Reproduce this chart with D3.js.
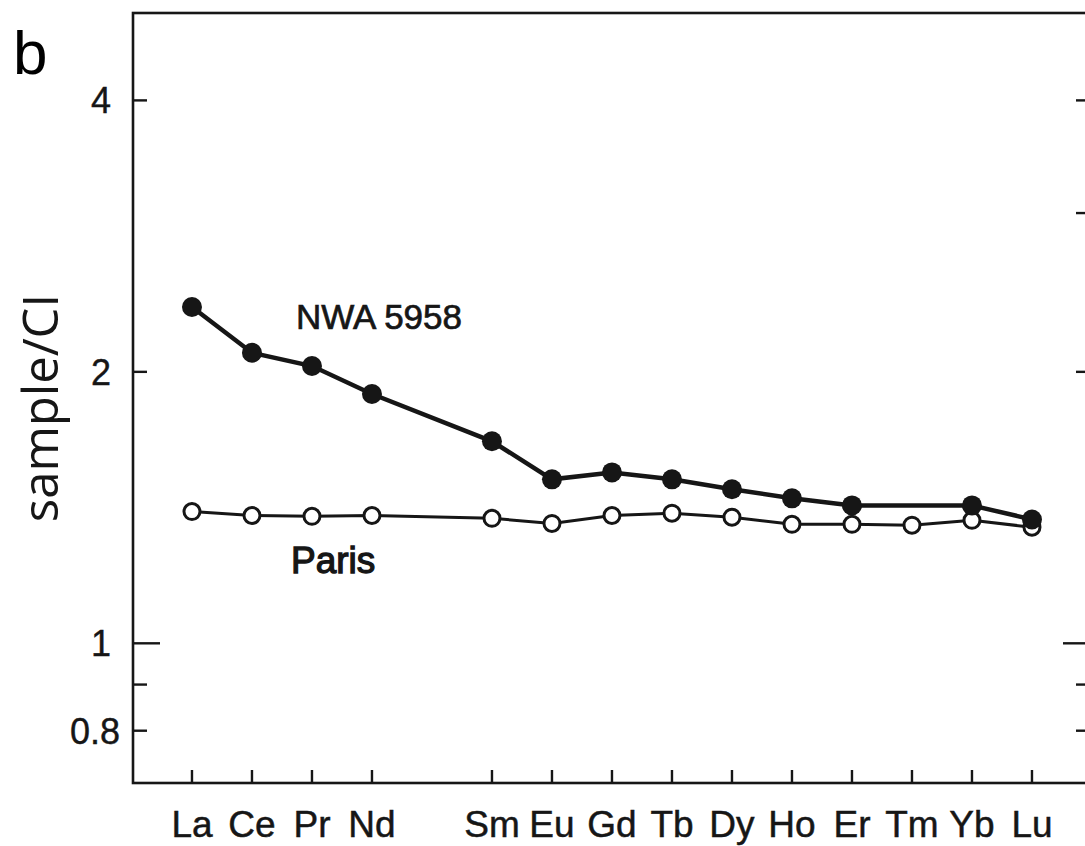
<!DOCTYPE html>
<html>
<head>
<meta charset="utf-8">
<script src="https://cdn.jsdelivr.net/npm/d3@7"></script>
<style>
  html, body { margin: 0; padding: 0; background: #fff; }
  svg { display: block; }
</style>
</head>
<body>
<svg id="chart" width="1085" height="846"></svg>
<script>
// Rare earth elements (Pm is a gap on the axis)
const elements = ["La","Ce","Pr","Nd","Pm","Sm","Eu","Gd","Tb","Dy","Ho","Er","Tm","Yb","Lu"];
// sample / CI values
const nwa5958 = [2.36, 2.10, 2.03, 1.89, null, 1.675, 1.52, 1.547, 1.52, 1.482, 1.448, 1.422, null, 1.422, 1.372];
const paris   = [1.40, 1.386, 1.383, 1.386, null, 1.376, 1.358, 1.386, 1.394, 1.380, 1.355, 1.355, 1.352, 1.369, 1.345];
const yMajorTicks = [4, 2, 1, 0.8];
const yMajorLabels = ["4", "2", "1", "0.8"];
const yLeftMinor = [0.9];
const yRightMinor = [3, 0.9];

(function () {
const svg = d3.select("#chart");
const pL = 133, pR = 1087, pT = 13, pB = 783;
const ink = "#161616";
const font = "Liberation Sans, Arial, sans-serif";

const x = d3.scaleLinear().domain([-0.983, 14.917]).range([pL, pR]);
const y = d3.scaleLog().domain([0.7, 5]).range([pB, pT]);

// frame
svg.append("rect").attr("x", pL).attr("y", pT)
  .attr("width", pR - pL).attr("height", pB - pT)
  .attr("fill", "none").attr("stroke", ink).attr("stroke-width", 2.6);

// bottom ticks (inward)
const xIdx = elements.map((e, i) => i).filter(i => elements[i] !== "Pm");
svg.append("g").selectAll("line").data(xIdx).join("line")
  .attr("x1", d => x(d)).attr("x2", d => x(d))
  .attr("y1", pB).attr("y2", pB - 13)
  .attr("stroke", ink).attr("stroke-width", 2.4);

// bottom labels
svg.append("g").selectAll("text").data(xIdx).join("text")
  .attr("x", d => x(d)).attr("y", 837)
  .attr("text-anchor", "middle")
  .attr("font-family", font)
  .attr("font-size", 37)
  .attr("fill", ink).attr("stroke", ink).attr("stroke-width", 0.5)
  .text(d => elements[d]);

// left ticks
function tickLen(v) { return v === 1 ? 27 : 14; }
svg.append("g").selectAll("line").data(yMajorTicks.concat(yLeftMinor)).join("line")
  .attr("x1", pL).attr("x2", d => pL + tickLen(d))
  .attr("y1", d => y(d)).attr("y2", d => y(d))
  .attr("stroke", ink).attr("stroke-width", 2.4);
// right ticks
svg.append("g").selectAll("line").data(yMajorTicks.concat(yRightMinor)).join("line")
  .attr("x1", 1085).attr("x2", d => 1085 - (d === 1 ? 22 : 9))
  .attr("y1", d => y(d)).attr("y2", d => y(d))
  .attr("stroke", ink).attr("stroke-width", 2.4);

// y labels
svg.append("g").selectAll("text").data(yMajorTicks).join("text")
  .attr("x", (d, i) => i === 3 ? 120 : 111)
  .attr("y", d => y(d) + 13)
  .attr("text-anchor", "end")
  .attr("font-family", font)
  .attr("font-size", 36)
  .attr("fill", ink).attr("stroke", ink).attr("stroke-width", 0.4)
  .text((d, i) => yMajorLabels[i]);

// axis title
svg.append("text")
  .attr("transform", "translate(58,408) rotate(-90)")
  .attr("text-anchor", "middle")
  .attr("font-family", "Open Sans, sans-serif")
  .attr("font-size", 49)
  .attr("fill", ink)
  .text("sample/CI");

// panel letter
svg.append("text").attr("x", 13).attr("y", 74)
  .attr("font-family", font)
  .attr("font-size", 62).attr("fill", "#000").text("b");

// lines
const line = d3.line().x(d => x(d.i)).y(d => y(d.v));
const nwaPts = nwa5958.map((v, i) => ({i, v})).filter(d => d.v != null);
const parisPts = paris.map((v, i) => ({i, v})).filter(d => d.v != null);

svg.append("path").datum(parisPts).attr("d", line)
  .attr("fill", "none").attr("stroke", ink).attr("stroke-width", 3);
svg.append("path").datum(nwaPts).attr("d", line)
  .attr("fill", "none").attr("stroke", ink).attr("stroke-width", 4.5);

svg.append("g").selectAll("circle").data(parisPts).join("circle")
  .attr("cx", d => x(d.i)).attr("cy", d => y(d.v)).attr("r", 8)
  .attr("fill", "#fff").attr("stroke", ink).attr("stroke-width", 3);
svg.append("g").selectAll("circle").data(nwaPts).join("circle")
  .attr("cx", d => x(d.i)).attr("cy", d => y(d.v)).attr("r", 10)
  .attr("fill", ink);

// series labels
svg.append("text").attr("x", 296).attr("y", 329)
  .attr("font-family", font)
  .attr("font-size", 35).attr("fill", ink).attr("stroke", ink).attr("stroke-width", 0.7)
  .text("NWA 5958");
svg.append("text").attr("x", 291).attr("y", 573)
  .attr("font-family", font)
  .attr("font-size", 37).attr("fill", ink).attr("stroke", ink).attr("stroke-width", 1.3)
  .text("Paris");
})();
</script>
</body>
</html>
